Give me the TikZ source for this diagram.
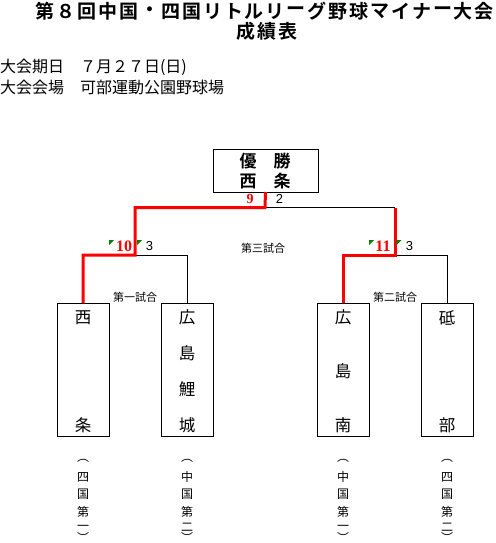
\documentclass[tikz,border=0pt]{standalone}
\usepackage{fontspec}
\setmainfont{Noto Sans CJK JP}[BoldFont={Noto Sans CJK JP Bold}]
\newfontfamily\digserif{Liberation Serif}
\newfontfamily\digsans{Liberation Sans}
\definecolor{winred}{RGB}{255,0,0}
\definecolor{markgreen}{RGB}{0,128,0}
\begin{document}
\begin{tikzpicture}[x=1pt,y=-1pt,
  every node/.style={inner sep=0pt,outer sep=0pt},
  titlechar/.style={font=\bfseries\fontsize{19}{19}\selectfont},
  team/.style={draw=black,line width=1pt,minimum width=52pt,minimum height=133pt},
  champbox/.style={draw=black,line width=1pt,minimum width=105pt,minimum height=43pt},
  teamchar/.style={font=\fontsize{16.5}{16.5}\selectfont},
  labelchar/.style={font=\fontsize{12}{12}\selectfont},
  gamename/.style={font=\fontsize{11}{11}\selectfont},
  winline/.style={draw=winred,line width=3pt,line join=miter},
  plainline/.style={draw=black,line width=1pt},
  winscore/.style={text=winred,font=\digserif\bfseries\fontsize{16}{16}\selectfont},
  losescore/.style={text=black,font=\digsans\fontsize{13}{13}\selectfont},
  greenmark/.style={fill=markgreen}
]
\useasboundingbox (0,0) rectangle (495,543);
% Title
\foreach \c [count=\i] in {第,８,回,中,国,・,四,国,リ,ト,ル,リ,ー,グ,野,球,マ,イ,ナ,ー,大,会}
  \node[titlechar] (t\i) at ({35+20.9*(\i-0.5)},11.5) {\c};
\foreach \c [count=\i] in {成,績,表}
  \node[titlechar] (u\i) at ({267+20.7*(\i-2)},31.5) {\c};
% Info
\node[anchor=west,font=\fontsize{16}{16}\selectfont] (info1) at (0,67) {大会期日　７月２７日(日)};
\node[anchor=west,font=\fontsize{16}{16}\selectfont] (info2) at (0,87) {大会会場　可部運動公園野球場};
% Champion
\node[champbox] (champ) at (265.5,170.5) {};
\node[font=\bfseries\fontsize{17}{17}\selectfont] (c1) at (265,161) {優　勝};
\node[font=\bfseries\fontsize{17}{17}\selectfont] (c2) at (265,181) {西　条};
% Teams
\node[team] (w1) at (83,369.5) {};
\node[team] (w2) at (187,369.5) {};
\node[team] (w3) at (343,369.5) {};
\node[team] (w4) at (447,369.5) {};
\node[teamchar] (a1) at (83,317.5) {西};
\node[teamchar] (a2) at (83,425.5) {条};
\node[teamchar] (b1) at (187,317.5) {広};
\node[teamchar] (b2) at (187,353.5) {島};
\node[teamchar] (b3) at (187,389.5) {鯉};
\node[teamchar] (b4) at (187,425.5) {城};
\node[teamchar] (d1) at (343,317.5) {広};
\node[teamchar] (d2) at (343,371) {島};
\node[teamchar] (d3) at (343,425.5) {南};
\node[teamchar] (e1) at (447,317.5) {砥};
\node[teamchar] (e2) at (447,425.5) {部};
% Region labels
\foreach \x/\r/\n [count=\k] in {83/四/一,187/中/二,343/中/一,447/四/二}{
  \node[labelchar] (p\k a) at (\x,461) {︵};
  \node[labelchar] (p\k b) at (\x,477) {\r};
  \node[labelchar] (p\k c) at (\x,494.5) {国};
  \node[labelchar] (p\k d) at (\x,511.5) {第};
  \node[labelchar] (p\k e) at (\x,527.5) {\n};
  \node[labelchar] (p\k f) at (\x,537.5) {︶};
}
% Bracket coordinates
\coordinate (s1) at (135,255);
\coordinate (s2) at (395,255);
\coordinate (fL) at (135,207.5);
\coordinate (fR) at (395,207.5);
\coordinate (fC) at (265,207.5);
% Lines
\path[plainline] (w2.north) |- (s1);
\path[plainline] (w4.north) |- (s2);
\path[plainline] (fC) -- (fR);
\path[winline] (w1.north) |- (s1) -- (fL) -- (fC) -- (champ.south);
\path[winline] (w3.north) |- (s2) -- (fR);
% Game names
\node[gamename] (g3) at (263,248) {第三試合};
\node[gamename] (g1) at (135,297) {第一試合};
\node[gamename] (g2) at (395,297) {第二試合};
% Scores
\node[winscore,font=\digserif\bfseries\fontsize{14}{14}\selectfont] (sc9) at (250,199) {9};
\node[losescore] (sc2) at (279.5,199) {2};
\node[winscore] (sc10) at (124,246) {10};
\node[losescore] (sc3a) at (149.5,246.5) {3};
\node[winscore] (sc11) at (383,246) {11};
\node[losescore] (sc3b) at (409.5,246.5) {3};
% Green marks
\fill[greenmark] (109,240) -- ++(5,0) -- ++(-5,5) -- cycle;
\fill[greenmark] (137,240) -- ++(5,0) -- ++(-5,5) -- cycle;
\fill[greenmark] (369,240) -- ++(5,0) -- ++(-5,5) -- cycle;
\fill[greenmark] (396.5,240) -- ++(5,0) -- ++(-5,5) -- cycle;
\end{tikzpicture}
\end{document}
